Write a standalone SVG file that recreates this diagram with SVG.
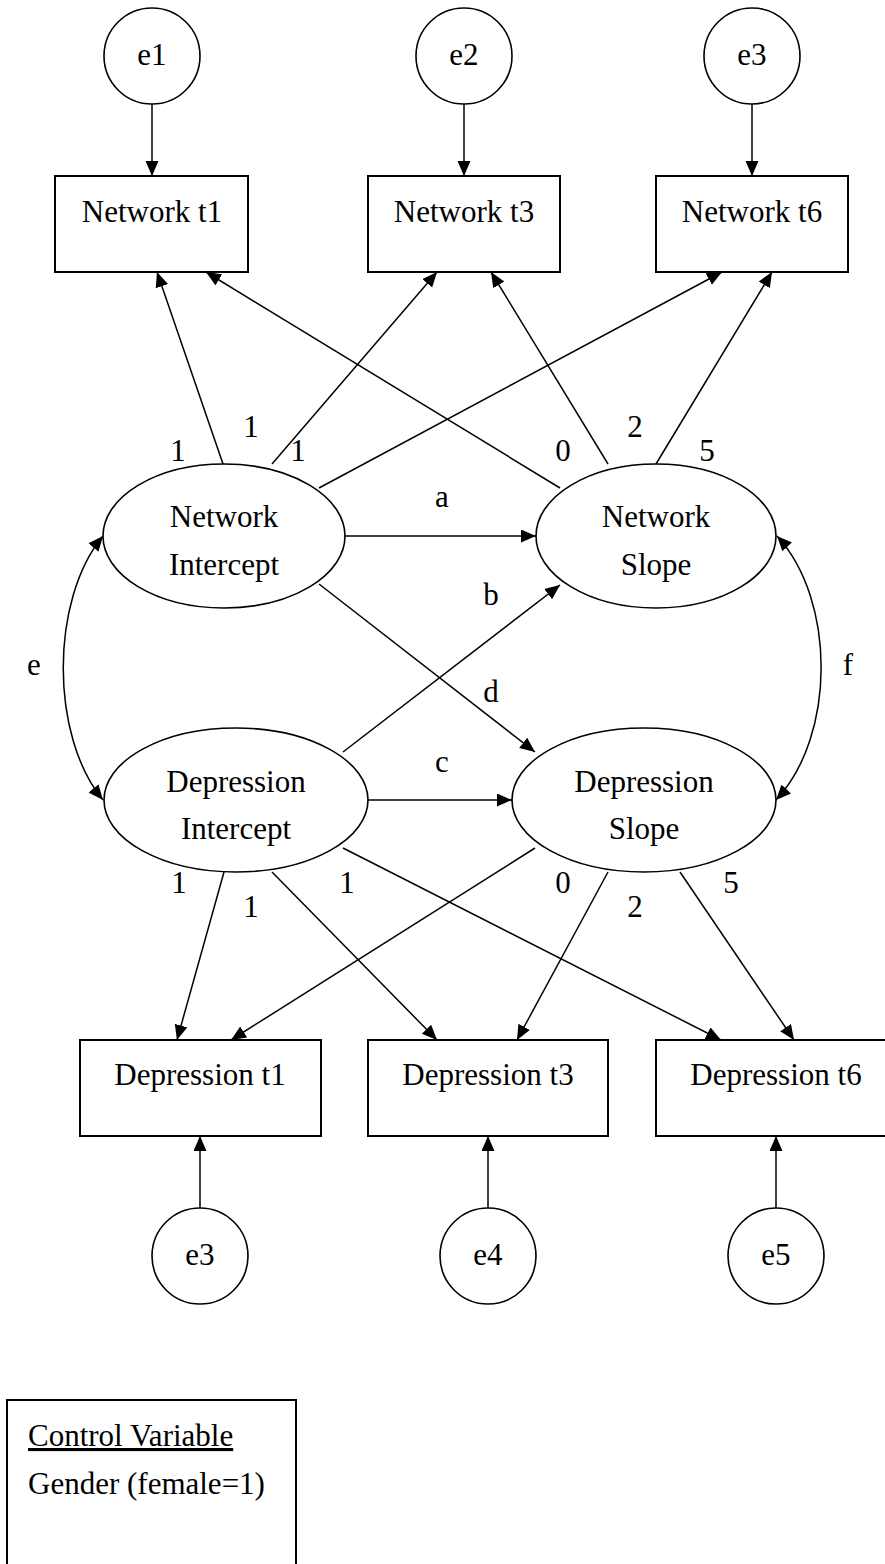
<svg xmlns="http://www.w3.org/2000/svg" width="885" height="1564" viewBox="0 0 885 1564">
<style>
text{font-family:"Liberation Serif","Times New Roman",serif;font-size:31px;fill:#000;text-anchor:middle}
.n{fill:#fff;stroke:#000;stroke-width:1.6}
.r{fill:#fff;stroke:#000;stroke-width:2}
.c line,.c path{stroke:#000;stroke-width:1.5;fill:none}
.lbl{text-anchor:middle}
</style>
<defs>
<marker id="ah" markerUnits="userSpaceOnUse" markerWidth="16" markerHeight="14" refX="15" refY="6.5" orient="auto">
<path d="M0,0 L15,6.5 L0,13 Z" fill="#000"/>
</marker>
<marker id="ahs" markerUnits="userSpaceOnUse" markerWidth="16" markerHeight="14" refX="15" refY="6.5" orient="auto-start-reverse">
<path d="M0,0 L15,6.5 L0,13 Z" fill="#000"/>
</marker>
</defs>
<rect width="885" height="1564" fill="#fff"/>

<g id="connectors" class="c">
<line x1="152" y1="104" x2="152" y2="176" marker-end="url(#ah)"/>
<line x1="464" y1="104" x2="464" y2="176" marker-end="url(#ah)"/>
<line x1="752" y1="104" x2="752" y2="176" marker-end="url(#ah)"/>
<line x1="223" y1="464" x2="157" y2="272" marker-end="url(#ah)"/>
<line x1="560" y1="488" x2="206" y2="272" marker-end="url(#ah)"/>
<line x1="272" y1="464" x2="437" y2="272" marker-end="url(#ah)"/>
<line x1="319" y1="488" x2="722" y2="272" marker-end="url(#ah)"/>
<line x1="608" y1="464" x2="491" y2="272" marker-end="url(#ah)"/>
<line x1="656" y1="464" x2="772" y2="272" marker-end="url(#ah)"/>
<line x1="345" y1="536" x2="536" y2="536" marker-end="url(#ah)"/>
<line x1="368" y1="800" x2="512" y2="800" marker-end="url(#ah)"/>
<line x1="319" y1="584" x2="535" y2="752" marker-end="url(#ah)"/>
<line x1="343" y1="752" x2="560" y2="585" marker-end="url(#ah)"/>
<path d="M103,536 C50,600 50,736 103,800" marker-start="url(#ahs)" marker-end="url(#ah)"/>
<path d="M777,536 C836,600 836,736 776,800" marker-start="url(#ahs)" marker-end="url(#ah)"/>
<line x1="224" y1="872" x2="177" y2="1040" marker-end="url(#ah)"/>
<line x1="535" y1="848" x2="231" y2="1040" marker-end="url(#ah)"/>
<line x1="272" y1="872" x2="437" y2="1040" marker-end="url(#ah)"/>
<line x1="343" y1="848" x2="721" y2="1040" marker-end="url(#ah)"/>
<line x1="608" y1="872" x2="517" y2="1040" marker-end="url(#ah)"/>
<line x1="680" y1="872" x2="794" y2="1040" marker-end="url(#ah)"/>
<line x1="200" y1="1208" x2="200" y2="1136" marker-end="url(#ah)"/>
<line x1="488" y1="1208" x2="488" y2="1136" marker-end="url(#ah)"/>
<line x1="776" y1="1208" x2="776" y2="1136" marker-end="url(#ah)"/>
</g>

<g id="labels">
<text x="178" y="461">1</text>
<text x="251" y="437">1</text>
<text x="298" y="461">1</text>
<text x="563" y="461">0</text>
<text x="635" y="437">2</text>
<text x="707" y="461">5</text>
<text x="442" y="507">a</text>
<text x="491" y="605">b</text>
<text x="491" y="702">d</text>
<text x="442" y="772">c</text>
<text x="34" y="675">e</text>
<text x="848" y="675">f</text>
<text x="179" y="893">1</text>
<text x="251" y="917">1</text>
<text x="347" y="893">1</text>
<text x="563" y="893">0</text>
<text x="635" y="917">2</text>
<text x="731" y="893">5</text>
</g>

<g id="e1"><circle class="n" cx="152" cy="56" r="48"/><text x="152" y="65">e1</text></g>
<g id="e2"><circle class="n" cx="464" cy="56" r="48"/><text x="464" y="65">e2</text></g>
<g id="e3top"><circle class="n" cx="752" cy="56" r="48"/><text x="752" y="65">e3</text></g>

<g id="network-t1"><rect class="r" x="55" y="176" width="193" height="96"/><text x="152" y="222">Network t1</text></g>
<g id="network-t3"><rect class="r" x="368" y="176" width="192" height="96"/><text x="464" y="222">Network t3</text></g>
<g id="network-t6"><rect class="r" x="656" y="176" width="192" height="96"/><text x="752" y="222">Network t6</text></g>

<g id="network-intercept"><ellipse class="n" cx="224" cy="536" rx="121" ry="72"/><text x="224" y="527">Network</text><text x="224" y="575">Intercept</text></g>
<g id="network-slope"><ellipse class="n" cx="656" cy="536" rx="120" ry="72"/><text x="656" y="527">Network</text><text x="656" y="575">Slope</text></g>
<g id="depression-intercept"><ellipse class="n" cx="236" cy="800" rx="132" ry="72"/><text x="236" y="792">Depression</text><text x="236" y="839">Intercept</text></g>
<g id="depression-slope"><ellipse class="n" cx="644" cy="800" rx="132" ry="72"/><text x="644" y="792">Depression</text><text x="644" y="839">Slope</text></g>

<g id="depression-t1"><rect class="r" x="80" y="1040" width="241" height="96"/><text x="200" y="1085">Depression t1</text></g>
<g id="depression-t3"><rect class="r" x="368" y="1040" width="240" height="96"/><text x="488" y="1085">Depression t3</text></g>
<g id="depression-t6"><rect class="r" x="656" y="1040" width="241" height="96"/><text x="776" y="1085">Depression t6</text></g>

<g id="e3bottom"><circle class="n" cx="200" cy="1256" r="48"/><text x="200" y="1265">e3</text></g>
<g id="e4"><circle class="n" cx="488" cy="1256" r="48"/><text x="488" y="1265">e4</text></g>
<g id="e5"><circle class="n" cx="776" cy="1256" r="48"/><text x="776" y="1265">e5</text></g>

<g id="control-variable">
<rect class="r" x="7" y="1400" width="289" height="200"/>
<text x="28" y="1446" style="text-anchor:start" text-decoration="underline">Control Variable</text>
<text x="28" y="1494" style="text-anchor:start">Gender (female=1)</text>
</g>
</svg>
